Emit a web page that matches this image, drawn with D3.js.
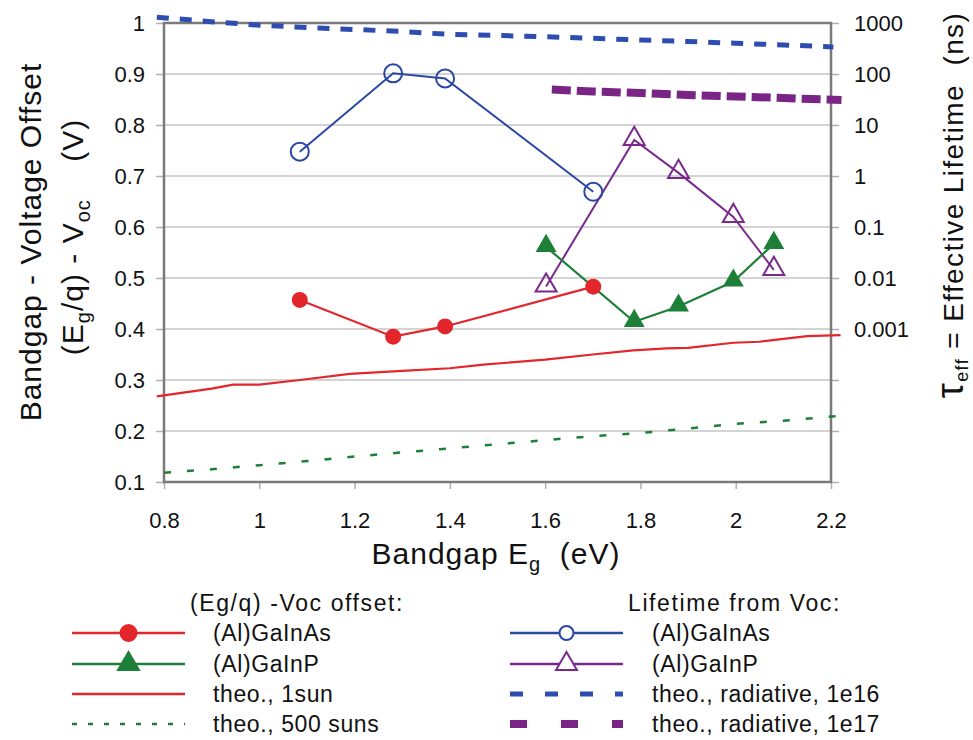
<!DOCTYPE html>
<html>
<head>
<meta charset="utf-8">
<script src="https://cdn.jsdelivr.net/npm/d3@7"></script>
<style>
  body { margin: 0; background: #fff; }
  text { font-family: "Liberation Sans", Arial, sans-serif; fill: #111; }
</style>
</head>
<body>
<div id="chart-area"></div>
<script>
// tick values
const xTicks = [0.8, 1, 1.2, 1.4, 1.6, 1.8, 2, 2.2];
const leftTicks = [0.1, 0.2, 0.3, 0.4, 0.5, 0.6, 0.7, 0.8, 0.9, 1];
const rightTicks = [1e-6, 1e-5, 1e-4, 0.001, 0.01, 0.1, 1, 10, 100, 1000];
const rightLabels = ["", "", "", "0.001", "0.01", "0.1", "1", "10", "100", "1000"];

// measured (Al)GaInAs
const egGaInAs = [1.085, 1.281, 1.39, 1.701];
const offsetGaInAs = [0.457, 0.385, 0.405, 0.483];
const lifeGaInAs = [3.0, 103, 82, 0.49];

// measured (Al)GaInP
const egGaInP = [1.602, 1.787, 1.88, 1.995, 2.08];
const offsetGaInP = [0.561, 0.414, 0.444, 0.493, 0.567];
const lifeGaInP = [0.0068, 5.1, 1.15, 0.158, 0.0144];

// theory, 1 sun
const egSun1 = [0.785, 0.9, 0.945, 1.0, 1.085, 1.19, 1.3, 1.4, 1.47, 1.6, 1.7, 1.785, 1.855, 1.9, 1.995, 2.05, 2.15, 2.22];
const offsetSun1 = [0.268, 0.283, 0.291, 0.291, 0.300, 0.312, 0.318, 0.323, 0.330, 0.340, 0.350, 0.358, 0.362, 0.363, 0.373, 0.375, 0.386, 0.388];

// theory, 500 suns
const egSun500 = [0.8, 0.9, 1.0, 1.1, 1.2, 1.3, 1.4, 1.5, 1.6, 1.7, 1.8, 1.9, 2.0, 2.1, 2.21];
const offsetSun500 = [0.118, 0.125, 0.133, 0.141, 0.150, 0.158, 0.166, 0.174, 0.182, 0.190, 0.196, 0.205, 0.214, 0.220, 0.229];

// theory, radiative lifetime 1e16
const egRad16 = [0.785, 0.9, 1.0, 1.1, 1.2, 1.3, 1.4, 1.5, 1.6, 1.7, 1.8, 1.9, 2.0, 2.1, 2.205];
const lifeRad16 = [1300, 1060, 906, 816, 746, 681, 596, 569, 538, 501, 464, 434, 400, 371, 340];

// theory, radiative lifetime 1e17
const egRad17 = [1.614, 1.7, 1.8, 1.9, 2.0, 2.1, 2.222];
const lifeRad17 = [49.7, 45.4, 42.4, 38.7, 36.2, 33.8, 30.9];

const red = "#e3262b", green = "#1e8038", blue = "#2b47a6", purple = "#7a2a8c";
const blueDash = "#2e4db0", purpleDash = "#7a2585";

const svg = d3.select("#chart-area").append("svg")
    .attr("width", 973)
    .attr("height", 740);

const mLeft = 164, mRight = 831, mTop = 23, mBottom = 482;

const x = d3.scaleLinear().domain([0.8, 2.2]).range([mLeft, mRight]);
const y = d3.scaleLinear().domain([0.1, 1]).range([mBottom, mTop]);
const yLog = d3.scaleLog().domain([1e-6, 1000]).range([mBottom, mTop]);

// gridlines
svg.append("g")
    .selectAll("line")
    .data(leftTicks.filter(d => d > 0.15 && d < 0.95))
    .enter()
    .append("line")
    .attr("x1", mLeft).attr("x2", mRight)
    .attr("y1", d => y(d)).attr("y2", d => y(d))
    .attr("stroke", "#c4c4c4")
    .attr("stroke-width", 1.5);

// axes
const xAxis = svg.append("g")
    .attr("transform", `translate(0,${mBottom})`)
    .call(d3.axisBottom(x).tickValues(xTicks).tickFormat(d3.format("~g")).tickSize(7).tickPadding(23));

const yAxis = svg.append("g")
    .attr("transform", `translate(${mLeft},0)`)
    .call(d3.axisLeft(y).tickValues(leftTicks).tickFormat(d3.format("~g")).tickSize(8).tickPadding(11));

const yAxisRight = svg.append("g")
    .attr("transform", `translate(${mRight},0)`)
    .call(d3.axisRight(yLog).tickValues(rightTicks).tickFormat((d, i) => rightLabels[i]).tickSize(8).tickPadding(15));

[xAxis, yAxis, yAxisRight].forEach(g => {
    g.select(".domain").remove();
    g.selectAll(".tick line").attr("stroke", "#b0b0b0").attr("stroke-width", 1.5);
    g.selectAll("text")
        .style("font-family", "'Liberation Sans', Arial, sans-serif")
        .style("font-size", "22px")
        .attr("fill", "#111");
});

// frame
svg.append("rect")
    .attr("x", mLeft).attr("y", mTop)
    .attr("width", mRight - mLeft).attr("height", mBottom - mTop)
    .attr("fill", "none")
    .attr("stroke", "#7a7a7a")
    .attr("stroke-width", 2.5);

// lines
const zipLine = (xs, ys, sy) => d3.line()
    .x((d, i) => x(xs[i]))
    .y((d, i) => sy(ys[i]))(xs);

svg.append("path")
    .attr("d", zipLine(egSun500, offsetSun500, y))
    .attr("fill", "none").attr("stroke", green)
    .attr("stroke-width", 2.5).attr("stroke-dasharray", "7,16");

svg.append("path")
    .attr("d", zipLine(egSun1, offsetSun1, y))
    .attr("fill", "none").attr("stroke", red)
    .attr("stroke-width", 2.2);

svg.append("path")
    .attr("d", zipLine(egRad16, lifeRad16, yLog))
    .attr("fill", "none").attr("stroke", blueDash)
    .attr("stroke-width", 5).attr("stroke-dasharray", "12,11");

svg.append("path")
    .attr("d", zipLine(egRad17, lifeRad17, yLog))
    .attr("fill", "none").attr("stroke", purpleDash)
    .attr("stroke-width", 8).attr("stroke-dasharray", "19,6");

svg.append("path")
    .attr("d", zipLine(egGaInAs, lifeGaInAs, yLog))
    .attr("fill", "none").attr("stroke", blue).attr("stroke-width", 2);

svg.append("path")
    .attr("d", zipLine(egGaInP, lifeGaInP, yLog))
    .attr("fill", "none").attr("stroke", purple).attr("stroke-width", 2);

svg.append("path")
    .attr("d", zipLine(egGaInAs, offsetGaInAs, y))
    .attr("fill", "none").attr("stroke", red).attr("stroke-width", 2.2);

svg.append("path")
    .attr("d", zipLine(egGaInP, offsetGaInP, y))
    .attr("fill", "none").attr("stroke", green).attr("stroke-width", 2.2);

// markers
const tri = d3.symbol().type(d3.symbolTriangle).size(190);

svg.append("g").selectAll("circle")
    .data(egGaInAs)
    .enter().append("circle")
    .attr("cx", d => x(d))
    .attr("cy", (d, i) => yLog(lifeGaInAs[i]))
    .attr("r", 9)
    .attr("fill", "none").attr("stroke", blue).attr("stroke-width", 2);

svg.append("g").selectAll("path")
    .data(egGaInP)
    .enter().append("path")
    .attr("d", tri)
    .attr("transform", (d, i) => `translate(${x(d)},${yLog(lifeGaInP[i]) - 1})`)
    .attr("fill", "none").attr("stroke", purple).attr("stroke-width", 2);

svg.append("g").selectAll("circle")
    .data(egGaInAs)
    .enter().append("circle")
    .attr("cx", d => x(d))
    .attr("cy", (d, i) => y(offsetGaInAs[i]))
    .attr("r", 8)
    .attr("fill", red);

svg.append("g").selectAll("path")
    .data(egGaInP)
    .enter().append("path")
    .attr("d", tri)
    .attr("transform", (d, i) => `translate(${x(d)},${y(offsetGaInP[i]) - 1})`)
    .attr("fill", green);

// axis titles
const xTitle = svg.append("text")
    .attr("x", 496).attr("y", 564)
    .attr("text-anchor", "middle")
    .style("font-size", "30px")
    .style("letter-spacing", "1px");
xTitle.append("tspan").text("Bandgap E");
xTitle.append("tspan").attr("dy", 7).style("font-size", "20px").text("g");
xTitle.append("tspan").attr("dy", -7).text("\u00a0\u00a0(eV)");

svg.append("text")
    .attr("transform", "translate(41,242) rotate(-90)")
    .attr("text-anchor", "middle")
    .style("font-size", "30px")
    .style("letter-spacing", "1px")
    .text("Bandgap - Voltage Offset");

const yTitle2 = svg.append("text")
    .attr("transform", "translate(83,237) rotate(-90)")
    .attr("text-anchor", "middle")
    .style("font-size", "30px")
    .style("letter-spacing", "1px");
yTitle2.append("tspan").text("(E");
yTitle2.append("tspan").attr("dy", 7).style("font-size", "20px").text("g");
yTitle2.append("tspan").attr("dy", -7).text("/q) - V");
yTitle2.append("tspan").attr("dy", 7).style("font-size", "20px").text("oc");
yTitle2.append("tspan").attr("dy", -7).text("\u00a0\u00a0\u00a0\u00a0(V)");

const rTitle = svg.append("text")
    .attr("transform", "translate(963,205) rotate(-90)")
    .attr("text-anchor", "middle")
    .style("font-size", "28px")
    .style("letter-spacing", "1.4px");
rTitle.append("tspan").style("font-size", "38px").text("\u03c4");
rTitle.append("tspan").attr("dy", 5).style("font-size", "18px").text("eff");
rTitle.append("tspan").attr("dy", -5).text(" = Effective Lifetime\u00a0\u00a0(ns)");

// legend
const legendRows = [633, 664, 694, 724];
const legendLeft = [
    { label: "(Al)GaInAs", color: red, marker: "circle", fill: red },
    { label: "(Al)GaInP", color: green, marker: "triangle", fill: green },
    { label: "theo., 1sun", color: red },
    { label: "theo., 500 suns", color: green, width: 2.5, dash: "5,11" }
];
const legendRight = [
    { label: "(Al)GaInAs", color: blue, marker: "circle", fill: "none" },
    { label: "(Al)GaInP", color: purple, marker: "triangle", fill: "none" },
    { label: "theo., radiative, 1e16", color: blueDash, width: 5, dash: "13,22" },
    { label: "theo., radiative, 1e17", color: purpleDash, width: 8, dash: "17,34" }
];

function drawLegend(items, x0, x1, tx, header, hx) {
    const g = svg.append("g");
    g.append("text").attr("x", hx).attr("y", 611)
        .style("font-size", "23px").style("letter-spacing", "1.6px").text(header);
    items.forEach((d, i) => {
        const cy = legendRows[i];
        g.append("line")
            .attr("x1", x0).attr("x2", x1).attr("y1", cy).attr("y2", cy)
            .attr("stroke", d.color)
            .attr("stroke-width", d.width || 2.5)
            .attr("stroke-dasharray", d.dash || null);
        const mx = (x0 + x1) / 2;
        if (d.marker === "circle") {
            g.append("circle").attr("cx", mx).attr("cy", cy)
                .attr("r", d.fill === "none" ? 7 : 8)
                .attr("fill", d.fill === "none" ? "#fff" : d.fill)
                .attr("stroke", d.color).attr("stroke-width", 2);
        } else if (d.marker === "triangle") {
            g.append("path").attr("d", tri)
                .attr("transform", `translate(${mx},${cy})`)
                .attr("fill", d.fill === "none" ? "#fff" : d.fill)
                .attr("stroke", d.color).attr("stroke-width", 2);
        }
        g.append("text").attr("x", tx).attr("y", cy + 8)
            .style("font-size", "23px").style("letter-spacing", "0.6px").text(d.label);
    });
}

drawLegend(legendLeft, 72, 185, 213, "(Eg/q) -Voc offset:", 190);
drawLegend(legendRight, 510, 623, 652, "Lifetime from Voc:", 628);
</script>
</body>
</html>
